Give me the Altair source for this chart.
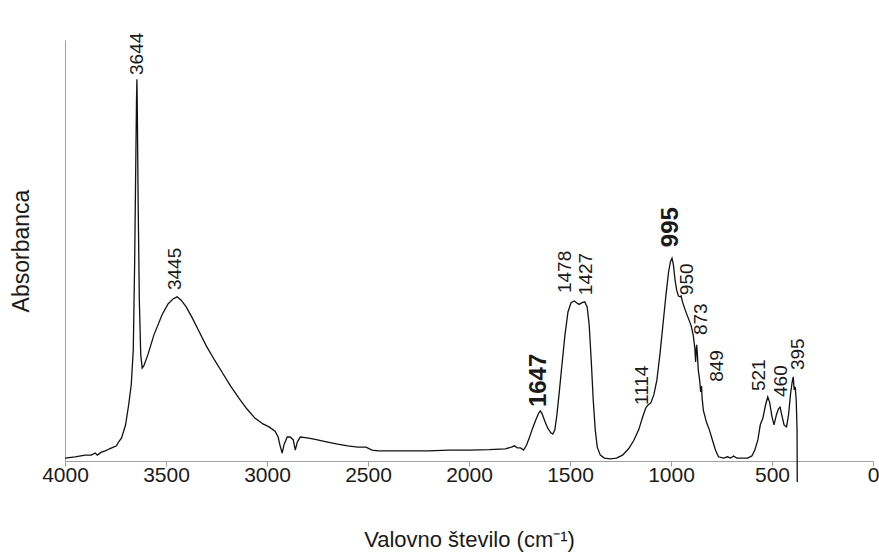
import altair as alt
import pandas as pd

# IR spectrum: wavenumber (cm-1) and absorbance (arbitrary units)
wavenumber = [
    4000, 3950, 3900, 3870, 3850, 3840, 3820, 3800, 3780, 3760, 3745, 3735, 3720, 3700,
    3685, 3672, 3662, 3655, 3650, 3646, 3644, 3642, 3638, 3632, 3625, 3618, 3610, 3590,
    3560, 3520, 3490, 3465, 3445, 3425, 3400, 3370, 3340, 3300, 3260, 3220, 3180, 3140,
    3100, 3060, 3020, 2990, 2960, 2945, 2935, 2925, 2915, 2900, 2885, 2870, 2860, 2850,
    2835, 2800, 2750, 2700, 2650, 2600, 2550, 2510, 2480, 2450, 2400, 2300, 2200, 2100,
    2000, 1900, 1820, 1790, 1775, 1760, 1745, 1730, 1715, 1700, 1685, 1670, 1655, 1647,
    1638, 1625, 1610, 1595, 1585, 1575, 1565, 1552, 1540, 1525, 1510, 1495, 1478, 1468,
    1455, 1440, 1427, 1415, 1405, 1395, 1385, 1375, 1365, 1350, 1330, 1300, 1270, 1240,
    1210, 1185, 1160, 1140, 1125, 1114, 1100, 1085, 1070, 1055, 1040, 1025, 1012, 1003,
    995, 988, 980, 972, 963, 955, 950, 943, 930, 915, 900, 890, 882, 878, 875, 873, 870,
    865, 858, 853, 849, 846, 840, 825, 810, 795, 780, 765, 740, 720, 705, 690, 675, 650,
    620, 600, 585, 570, 558, 545, 532, 521, 512, 500, 490, 478, 468, 460, 452, 440, 428,
    418, 408, 400, 395, 390, 385, 380, 376, 375,
]
absorbance = [
    0.007, 0.010, 0.014, 0.014, 0.019, 0.014, 0.021, 0.024, 0.029, 0.033, 0.036, 0.045, 0.055, 0.086,
    0.133, 0.181, 0.264, 0.477, 0.691, 0.857, 0.907, 0.834, 0.620, 0.382, 0.252, 0.221, 0.226, 0.252,
    0.299, 0.347, 0.373, 0.385, 0.390, 0.382, 0.366, 0.340, 0.311, 0.273, 0.240, 0.209, 0.178, 0.150,
    0.124, 0.102, 0.088, 0.081, 0.071, 0.057, 0.036, 0.019, 0.040, 0.057, 0.057, 0.050, 0.026, 0.045,
    0.057, 0.055, 0.050, 0.045, 0.040, 0.036, 0.033, 0.033, 0.026, 0.024, 0.024, 0.024, 0.024, 0.026,
    0.026, 0.027, 0.029, 0.033, 0.036, 0.031, 0.031, 0.026, 0.038, 0.057, 0.078, 0.097, 0.114, 0.119,
    0.112, 0.095, 0.078, 0.067, 0.064, 0.074, 0.109, 0.169, 0.228, 0.299, 0.354, 0.376, 0.380, 0.376,
    0.372, 0.376, 0.378, 0.366, 0.323, 0.240, 0.145, 0.074, 0.033, 0.014, 0.007, 0.005, 0.007, 0.014,
    0.029, 0.048, 0.074, 0.105, 0.126, 0.133, 0.138, 0.157, 0.192, 0.252, 0.323, 0.394, 0.449, 0.473,
    0.482, 0.466, 0.430, 0.406, 0.392, 0.390, 0.392, 0.378, 0.359, 0.340, 0.321, 0.299, 0.268, 0.235, 0.264, 0.276, 0.259,
    0.216, 0.192, 0.164, 0.178, 0.150, 0.121, 0.093, 0.074, 0.050, 0.026, 0.010, 0.007, 0.010, 0.007, 0.012, 0.007, 0.007,
    0.007, 0.012, 0.026, 0.050, 0.086, 0.102, 0.133, 0.152, 0.140, 0.105, 0.086, 0.110, 0.124, 0.128, 0.110, 0.085, 0.081,
    0.110, 0.160, 0.188, 0.200, 0.169, 0.176, 0.145, 0.074, -0.050,
]

# Peak annotations: label text, anchor wavenumber, anchor absorbance, emphasis
peak_labels = ["3644", "3445", "1647", "1478", "1427", "1114", "995", "950", "873", "849", "521", "460", "395"]
label_wn = [3644, 3455, 1653, 1525, 1421, 1144, 1000, 921, 851, 772, 564, 455, 371]
label_abs = [0.917, 0.406, 0.128, 0.399, 0.394, 0.133, 0.508, 0.394, 0.299, 0.188, 0.166, 0.152, 0.216]
label_big = [False, False, True, False, False, False, True, False, False, False, False, False, False]

spectrum = pd.DataFrame({"wn": wavenumber, "a": absorbance, "order": range(len(wavenumber))})
labels = pd.DataFrame({"text": peak_labels, "wn": label_wn, "a": label_abs, "big": label_big})

FONT = "Liberation Sans"
INK = "#1a1a1a"

x_scale = alt.Scale(domain=[4000, 0], nice=False, zero=False)
y_scale = alt.Scale(domain=[0, 1], nice=False, zero=False)

line = alt.Chart(spectrum).mark_line(color="#111111", strokeWidth=1.3).encode(
    x=alt.X(
        "wn:Q",
        scale=x_scale,
        axis=alt.Axis(
            title="Valovno število (cm⁻¹)",
            values=[4000, 3500, 3000, 2500, 2000, 1500, 1000, 500, 0],
            format="d",
            grid=False,
            domainColor="#a0a0a0",
            tickColor="#a0a0a0",
            tickSize=5,
            labelFontSize=21,
            labelColor=INK,
            labelPadding=-2,
            labelFlush=False,
            titleFontSize=22,
            titleFontWeight="normal",
            titleColor=INK,
            titlePadding=44,
        ),
    ),
    y=alt.Y(
        "a:Q",
        scale=y_scale,
        axis=alt.Axis(
            title="Absorbanca",
            labels=False,
            ticks=False,
            grid=False,
            domainColor="#a0a0a0",
            titleFontSize=23,
            titleFontWeight="normal",
            titleColor=INK,
            titlePadding=32,
        ),
    ),
    order="order:Q",
)

text_small = alt.Chart(labels).transform_filter("!datum.big").mark_text(
    angle=270, align="left", baseline="middle", fontSize=19, font=FONT, color=INK
).encode(x=alt.X("wn:Q", scale=x_scale), y=alt.Y("a:Q", scale=y_scale), text="text:N")

text_big = alt.Chart(labels).transform_filter("datum.big").mark_text(
    angle=270, align="left", baseline="middle", fontSize=24, fontWeight="bold", font=FONT, color=INK
).encode(x=alt.X("wn:Q", scale=x_scale), y=alt.Y("a:Q", scale=y_scale), text="text:N")

chart = (
    alt.layer(line, text_small, text_big)
    .properties(
        width=808,
        height=421,
        autosize=alt.AutoSizeParams(type="none"),
        padding={"left": 65, "top": 40, "right": 6, "bottom": 95},
        background="white",
    )
    .configure_view(stroke=None)
    .configure_axis(labelFont=FONT, titleFont=FONT)
)

chart.save("out.html", embed_options={"renderer": "svg", "actions": False})
